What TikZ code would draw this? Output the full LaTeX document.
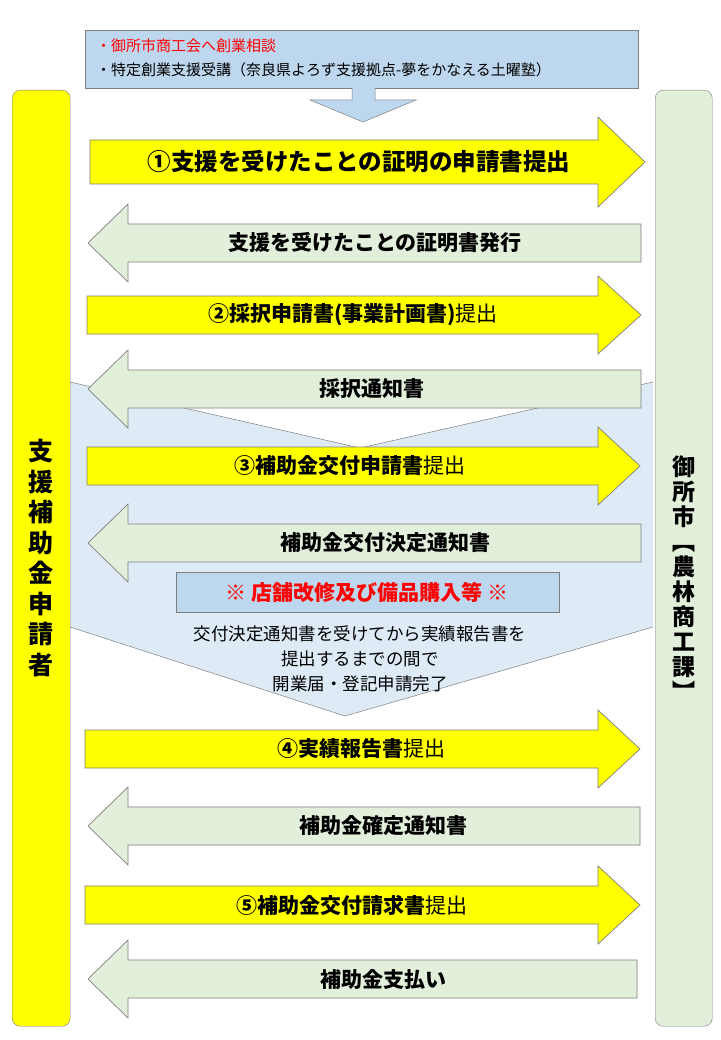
\documentclass[tikz,border=0pt]{standalone}
\usepackage{fontspec}
\setmainfont{Noto Sans CJK JP}
\definecolor{ylw}{HTML}{FFFF00}
\definecolor{grn}{HTML}{E2EFDA}
\definecolor{lblue}{HTML}{BDD7EE}
\definecolor{bgblue}{HTML}{DEEBF7}
\definecolor{redt}{HTML}{FF0000}
\definecolor{edge}{HTML}{7F7F7F}
\newcommand\RArr[5]{% yc, xl, xbase, xtip, fill
 \draw[edge,fill=#5,line width=0.7pt] (#2,#1-19) -- (#3,#1-19) -- (#3,#1-39) -- (#4,#1) -- (#3,#1+39) -- (#3,#1+19) -- (#2,#1+19) -- cycle;}
\newcommand\LArr[5]{% yc, xtip, xbase, xr, fill
 \draw[edge,fill=#5,line width=0.7pt] (#4,#1-19) -- (#3,#1-19) -- (#3,#1-39) -- (#2,#1) -- (#3,#1+39) -- (#3,#1+19) -- (#4,#1+19) -- cycle;}
\tikzset{lbl/.style={font=\bfseries\fontsize{21}{24}\selectfont,inner sep=0},
 note/.style={font=\fontsize{17.5}{25}\selectfont,align=center,inner sep=0}}
\begin{document}
\begin{tikzpicture}[x=1pt,y=-1pt]
\useasboundingbox (0,0) rectangle (720,1040);
\fill[white] (0,0) rectangle (720,1040);
% background chevron band
\fill[bgblue] (70,382) -- (360,448) -- (653,382) -- (653,627) -- (345,716) -- (70,627) -- cycle;
\draw[edge,line width=0.5pt] (70,382) -- (360,448) -- (653,382);
\draw[edge,line width=0.5pt] (70,627) -- (345,716) -- (653,627);
% top box
\node[draw=edge,fill=lblue,minimum width=553,minimum height=58,anchor=north west,inner sep=0] (top) at (85,30) {};
\node[anchor=west,text=redt,font=\fontsize{15}{16}\selectfont,inner sep=0] (t1) at (96,46) {・御所市商工会へ創業相談};
\node[anchor=west,font=\fontsize{15}{16}\selectfont,inner sep=0] (t2) at (96,70) {・特定創業支援受講（奈良県よろず支援拠点-夢をかなえる土曜塾）};
\draw[edge,fill=lblue,line width=0.5pt] (352,88) -- (352,100) -- (310,100) -- (363,122) -- (416,100) -- (375,100) -- (375,88);
% side bars
\node[draw=edge,fill=ylw,rounded corners=8,minimum width=58,minimum height=936,anchor=north west] (left) at (12,90) {};
\node[draw=edge,fill=grn,rounded corners=8,minimum width=57,minimum height=936,anchor=north west] (right) at (655,90) {};
\node[font=\bfseries\fontsize{25}{30.5}\selectfont,align=center,inner sep=0] (lt) at (41,558) {支\\援\\補\\助\\金\\申\\請\\者};
\node[font=\bfseries\fontsize{23}{25}\selectfont,align=center,inner sep=0] (rt) at (684,578) {御\\所\\市\\︻\\農\\林\\商\\工\\課\\︼};
% arrows
\draw[edge,fill=ylw,line width=0.7pt] (90,140) -- (598,140) -- (598,117) -- (645,162) -- (598,207) -- (598,184) -- (90,184) -- cycle;
\node[lbl,font=\bfseries\fontsize{23.5}{26}\selectfont] (a1) at (359,162) {①支援を受けたことの証明の申請書提出};
\LArr{243}{88}{128}{641}{grn}
\node[lbl] (a2) at (375,243) {支援を受けたことの証明書発行};
\RArr{315}{87}{598}{641}{ylw}
\node[lbl] (a3) at (353,315) {②採択申請書(事業計画書)\textmd{提出}};
\LArr{389}{88}{128}{641}{grn}
\node[lbl] (a4) at (372,389) {採択通知書};
\RArr{466}{87}{598}{640}{ylw}
\node[lbl] (a5) at (350,466) {③補助金交付申請書\textmd{提出}};
\LArr{543}{88}{128}{641}{grn}
\node[lbl] (a6) at (385,543) {補助金交付決定通知書};
\node[draw=edge,fill=lblue,minimum width=383,minimum height=40,anchor=north west,inner sep=0] (bx) at (176,572) {};
\node[text=redt,font=\bfseries\fontsize{21}{24}\selectfont,inner sep=0] (bxt) at (367,592) {※ 店舗改修及び備品購入等 ※};
\node[note] (nt) at (360,659) {交付決定通知書を受けてから実績報告書を\\提出するまでの間で\\開業届・登記申請完了};
\RArr{749}{85}{598}{640}{ylw}
\node[lbl] (a7) at (361,749) {④実績報告書\textmd{提出}};
\LArr{826}{88}{128}{640}{grn}
\node[lbl] (a8) at (383,826) {補助金確定通知書};
\RArr{905}{85}{598}{640}{ylw}
\node[lbl] (a9) at (352,905) {⑤補助金交付請求書\textmd{提出}};
\LArr{979}{88}{128}{637}{grn}
\node[lbl] (a10) at (383,979) {補助金支払い};
\end{tikzpicture}
\end{document}
